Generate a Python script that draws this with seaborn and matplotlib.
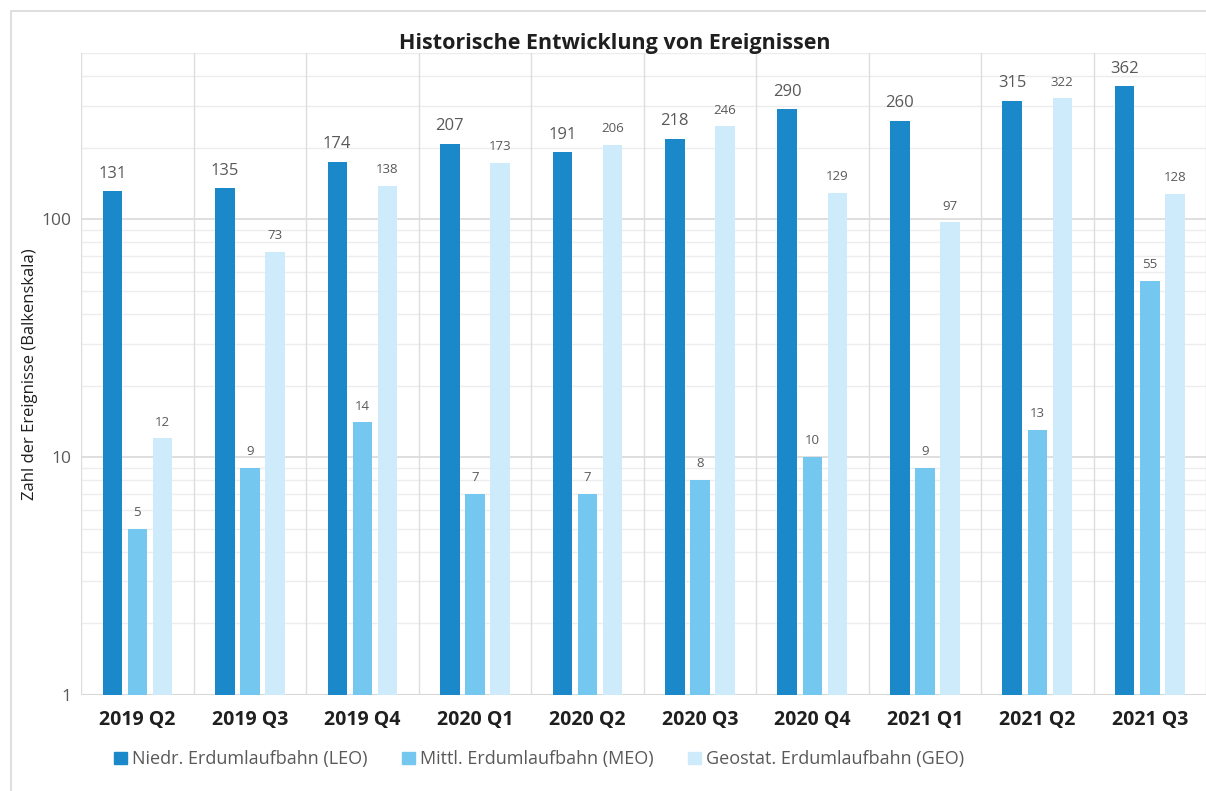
import numpy as np
import pandas as pd
import seaborn as sns
import matplotlib.pyplot as plt
from matplotlib.patches import Rectangle
from matplotlib.ticker import LogLocator, NullFormatter, FixedLocator

# chart data
quarters = ["2019 Q2", "2019 Q3", "2019 Q4", "2020 Q1", "2020 Q2",
            "2020 Q3", "2020 Q4", "2021 Q1", "2021 Q2", "2021 Q3"]
series = ["Niedr. Erdumlaufbahn (LEO)", "Mittl. Erdumlaufbahn (MEO)",
          "Geostat. Erdumlaufbahn (GEO)"]
leo = [131, 135, 174, 207, 191, 218, 290, 260, 315, 362]
meo = [5, 9, 14, 7, 7, 8, 10, 9, 13, 55]
geo = [12, 73, 138, 173, 206, 246, 129, 97, 322, 128]
colors = ["#1B88C9", "#74C8F0", "#CDEBFB"]

df = pd.DataFrame({
    "Quartal": quarters * 3,
    "Orbit": np.repeat(series, len(quarters)),
    "Anzahl": leo + meo + geo,
})

sns.set_theme(style="white")
plt.rcParams["font.family"] = ["Open Sans", "DejaVu Sans"]

fig = plt.figure(figsize=(12.06, 7.91), dpi=100)
ax = fig.add_axes([0.0672, 0.1214, 0.9328, 0.8116])

# outer frame of the chart area
fig.patches.append(Rectangle((11 / 1206, -0.05), 1.2, 1 - 11 / 791 + 0.05,
                             transform=fig.transFigure, fill=False,
                             edgecolor="#D9D9D9", linewidth=1.2, zorder=0))

sns.barplot(data=df, x="Quartal", y="Anzahl", hue="Orbit", palette=colors,
            width=0.667, gap=0.22, saturation=1, ax=ax, legend=False,
            zorder=3, edgecolor="none")

ax.set_yscale("log")
ax.set_ylim(1, 500)
ax.set_xlim(-0.5, len(quarters) - 0.5)

# gridlines
ax.yaxis.set_major_locator(FixedLocator([1, 10, 100]))
ax.yaxis.set_minor_locator(LogLocator(base=10, subs=np.arange(2, 10)))
ax.yaxis.set_minor_formatter(NullFormatter())
ax.set_yticklabels(["1", "10", "100"])
ax.grid(axis="y", which="major", color="#D9D9D9", linewidth=1.2, zorder=0)
ax.grid(axis="y", which="minor", color="#EDEDED", linewidth=1.0, zorder=0)
for xv in np.arange(-0.5, len(quarters), 1):
    ax.axvline(xv, color="#DDDDDD", linewidth=1.0, zorder=1)

for s in ax.spines.values():
    s.set_visible(False)
ax.axhline(1, color="#D9D9D9", linewidth=1.5, zorder=2)

ax.tick_params(axis="both", which="both", length=0)
ax.tick_params(axis="y", labelsize=12.5, labelcolor="#595959", pad=7)
ax.tick_params(axis="x", labelsize=14, pad=11)
for lbl in ax.get_xticklabels():
    lbl.set_fontweight("bold")
    lbl.set_color("#1F1F1F")

ax.set_xlabel("")
ax.set_ylabel("")
fig.text(30 / 1206, 1 - 374 / 791, "Zahl der Ereignisse (Balkenskala)",
         rotation=90, ha="center", va="center", fontsize=12, color="#1F1F1F")

# value labels
sizes = [12, 9.5, 9.5]
for cont, fs in zip(ax.containers, sizes):
    ax.bar_label(cont, fmt="%d", padding=7, fontsize=fs, color="#595959")

fig.text(0.51, 0.945, "Historische Entwicklung von Ereignissen",
         ha="center", va="center", fontsize=15.5, fontweight="bold",
         color="#1F1F1F")

handles = [Rectangle((0, 0), 1, 1, color=c) for c in colors]
fig.legend(handles, series, loc="center", bbox_to_anchor=(0.447, 0.040),
           ncol=3, frameon=False, fontsize=13, labelcolor="#595959",
           handlelength=0.7, handleheight=0.7, handletextpad=0.3,
           columnspacing=1.9)

fig.savefig("out.png", dpi=100)
